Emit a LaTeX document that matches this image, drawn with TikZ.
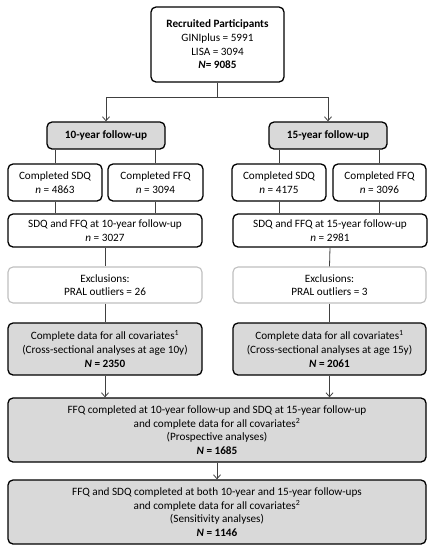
\documentclass[tikz,border=0pt]{standalone}
\usepackage{fontspec}
\setmainfont{Carlito}
\usetikzlibrary{arrows.meta}
\definecolor{boxgray}{HTML}{D9D9D9}
\definecolor{exgray}{HTML}{BFBFBF}
\definecolor{linegray}{HTML}{404040}
\tikzset{
  box/.style={draw=black, line width=1.3pt, rounded corners=5pt, fill=white, align=center,
    font=\fontsize{11.2}{13.7}\selectfont, inner sep=1pt},
  graybox/.style={box, fill=boxgray},
  exbox/.style={box, draw=exgray, line width=1.1pt},
  conn/.style={draw=linegray, line width=0.8pt},
  arr/.style={conn, -{Straight Barb[length=4pt,width=7pt]}},
}
\begin{document}
\begin{tikzpicture}[x=1pt,y=-1pt]
\useasboundingbox (0,0) rectangle (433,550);
\node[box, minimum width=133pt, minimum height=75pt] (top) at (217.5,44.5)
  {\textbf{Recruited Participants}\\GINIplus = 5991\\LISA = 3094\\\textbf{\textit{N}= 9085}};
\node[graybox, minimum width=118pt, minimum height=27pt] (t10) at (106,135.5) {\textbf{10-year follow-up}};
\node[graybox, minimum width=118pt, minimum height=27pt] (t15) at (328,135.5) {\textbf{15-year follow-up}};
\node[box, minimum width=94pt, minimum height=37pt] (sdq10) at (55,182.5) {Completed SDQ\\\textit{n} = 4863};
\node[box, minimum width=95pt, minimum height=37pt] (ffq10) at (155.5,182.5) {Completed FFQ\\\textit{n} = 3094};
\node[box, minimum width=94pt, minimum height=37pt] (sdq15) at (279,182.5) {Completed SDQ\\\textit{n} = 4175};
\node[box, minimum width=93pt, minimum height=37pt] (ffq15) at (379.5,182.5) {Completed FFQ\\\textit{n} = 3096};
\node[box, minimum width=194pt, minimum height=33pt] (both10) at (105,230.5) {SDQ and FFQ at 10-year follow-up\\\textit{n} = 3027};
\node[box, minimum width=194pt, minimum height=33pt] (both15) at (330,230.5) {SDQ and FFQ at 15-year follow-up\\\textit{n} = 2981};
\node[exbox, minimum width=194pt, minimum height=36pt] (ex10) at (105,285) {Exclusions:\\PRAL outliers = 26};
\node[exbox, minimum width=193pt, minimum height=36pt] (ex15) at (329.5,285) {Exclusions:\\PRAL outliers = 3};
\node[graybox, minimum width=194pt, minimum height=52pt] (cd10) at (105,349)
  {Complete data for all covariates\textsuperscript{1}\\(Cross-sectional analyses at age 10y)\\\textbf{\textit{N} = 2350}};
\node[graybox, minimum width=193pt, minimum height=52pt] (cd15) at (329.5,349)
  {Complete data for all covariates\textsuperscript{1}\\(Cross-sectional analyses at age 15y)\\\textbf{\textit{N} = 2061}};
\node[graybox, minimum width=418pt, minimum height=64pt] (pros) at (217,430)
  {FFQ completed at 10-year follow-up and SDQ at 15-year follow-up\\and complete data for all covariates\textsuperscript{2}\\(Prospective analyses)\\\textbf{\textit{N} = 1685}};
\node[graybox, minimum width=418pt, minimum height=64pt] (sens) at (217,512)
  {FFQ and SDQ completed at both 10-year and 15-year follow-ups\\and complete data for all covariates\textsuperscript{2}\\(Sensitivity analyses)\\\textbf{\textit{N} = 1146}};
\coordinate (split) at (217.5,97);
\draw[conn] (top.south) -- (split);
\draw[arr] (split) -| (t10.north);
\draw[arr] (split) -| (t15.north);
\draw[conn] (sdq10.north |- t10.south) -- (sdq10.north);
\draw[conn] (ffq10.north |- t10.south) -- (ffq10.north);
\draw[conn] (sdq15.north |- t15.south) -- (sdq15.north);
\draw[conn] (ffq15.north |- t15.south) -- (ffq15.north);
\draw[conn] (sdq10.south) -- (sdq10.south |- both10.north);
\draw[conn] (ffq10.south) -- (ffq10.south |- both10.north);
\draw[conn] (sdq15.south) -- (sdq15.south |- both15.north);
\draw[conn] (ffq15.south) -- (ffq15.south |- both15.north);
\draw[conn] (both10.south) -- (ex10.north);
\draw[conn] (both15.south) -- (ex15.north);
\draw[conn] (ex10.south) -- (cd10.north);
\draw[conn] (ex15.south) -- (cd15.north);
\draw[arr] (cd10.south) -- (cd10.south |- pros.north);
\draw[arr] (cd15.south) -- (cd15.south |- pros.north);
\draw[arr] (pros.south) -- (sens.north);
\end{tikzpicture}
\end{document}
